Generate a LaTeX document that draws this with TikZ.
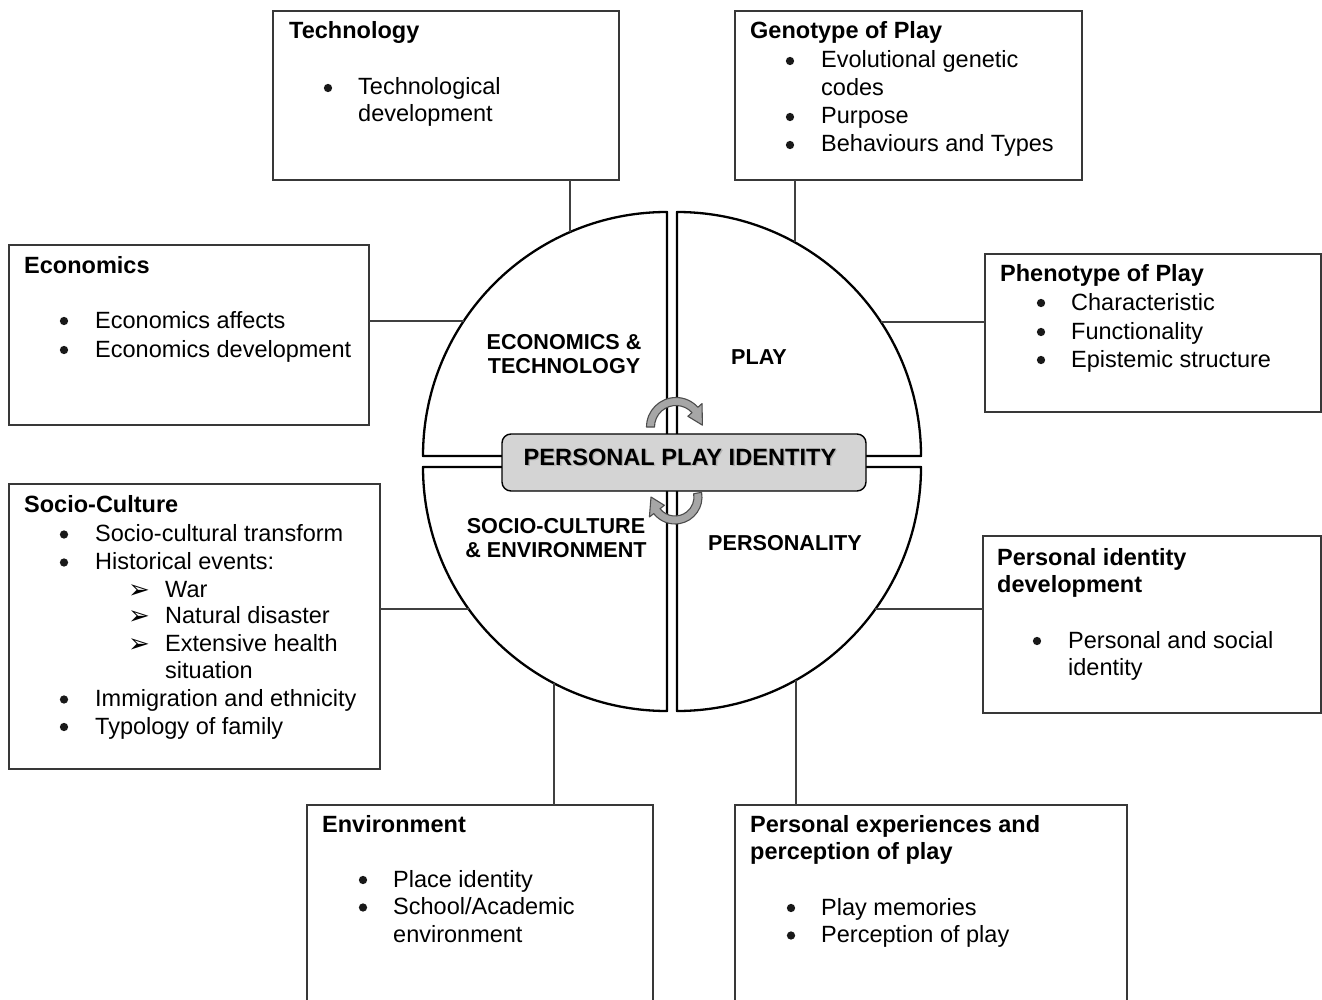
\documentclass[tikz,border=0pt]{standalone}
\usepackage{fontspec}
\setmainfont{Liberation Sans}
\newfontfamily\dejavu{DejaVu Sans}
\begin{document}
\begin{tikzpicture}[x=1pt,y=-1pt,
  box/.style={draw=black!78, line width=1.4pt, inner sep=0pt, outer sep=0pt},
  conn/.style={draw=black!75, line width=1.3pt},
  quad/.style={draw=black, line width=2.3pt, line join=round},
  txt/.style={anchor=base west, inner sep=0pt, font=\fontsize{23.5}{28}\selectfont},
  ttl/.style={anchor=base west, inner sep=0pt, font=\fontsize{23.5}{28}\selectfont\bfseries},
  bul/.style={circle, fill=black!90, inner sep=0pt, minimum size=8.3pt, yshift=7pt},
  arw/.style={anchor=base, inner sep=0pt, font=\dejavu\fontsize{26}{28}\selectfont},
  qlab/.style={anchor=base, align=center, inner sep=0pt, font=\fontsize{21.6}{24}\selectfont\bfseries},
  rarrow/.style={fill=black!35, draw=black!70, line width=1.1pt, line join=round}
]
\clip (0,0) rectangle (1322,1000);
\fill[white] (0,0) rectangle (1322,1000);

% circle quadrants
\draw[quad] (667,456) -- (423,456) arc[start angle=180,end angle=270,radius=244] -- cycle;
\draw[quad] (677,456) -- (677,212) arc[start angle=270,end angle=360,radius=244] -- cycle;
\draw[quad] (667,467) -- (423,467) arc[start angle=180,end angle=90,radius=244] -- cycle;
\draw[quad] (677,467) -- (921,467) arc[start angle=0,end angle=90,radius=244] -- cycle;

% boxes
\node[box, minimum width=346pt, minimum height=169pt] (tech) at (446,95.5) {};
\node[box, minimum width=347pt, minimum height=169pt] (geno) at (908.5,95.5) {};
\node[box, minimum width=360pt, minimum height=180pt] (econ) at (189,335) {};
\node[box, minimum width=336pt, minimum height=158pt] (pheno) at (1153,333) {};
\node[box, minimum width=371pt, minimum height=285pt] (socio) at (194.5,626.5) {};
\node[box, minimum width=338pt, minimum height=177pt] (pid) at (1152,624.5) {};
\node[box, minimum width=346pt, minimum height=225pt] (env) at (480,917.5) {};
\node[box, minimum width=392pt, minimum height=225pt] (pexp) at (931,917.5) {};

% circle contact points
\coordinate (cT) at (570,232);
\coordinate (cG) at (795,242.4);
\coordinate (cE) at (463.7,321);
\coordinate (cP) at (881,322);
\coordinate (cS) at (468.6,609);
\coordinate (cI) at (875.4,609);
\coordinate (cV) at (554,683);
\coordinate (cX) at (796,680);

\draw[conn] (cT) -- (cT |- tech.south);
\draw[conn] (cG) -- (cG |- geno.south);
\draw[conn] (cE) -- (cE -| econ.east);
\draw[conn] (cP) -- (cP -| pheno.west);
\draw[conn] (cS) -- (cS -| socio.east);
\draw[conn] (cI) -- (cI -| pid.west);
\draw[conn] (cV) -- (cV |- env.north);
\draw[conn] (cX) -- (cX |- pexp.north);

% central box
\node[draw=black, line width=1.4pt, fill=black!17, rounded corners=9pt,
      minimum width=364pt, minimum height=57pt, inner sep=0pt] (ppi) at (684,462.5) {};
\node[anchor=base, inner sep=0pt, text=black!30, font=\fontsize{23.6}{26}\selectfont\bfseries] (ppis) at (681.3,466.3) {PERSONAL PLAY IDENTITY};
\node[anchor=base, inner sep=0pt, text=black, font=\fontsize{23.6}{26}\selectfont\bfseries] (ppit) at (680,465) {PERSONAL PLAY IDENTITY};

% rotating arrows
\coordinate (ca) at (676,427);
\draw[rarrow] ([shift={(180:21.5)}]ca) -- ([shift={(180:29.5)}]ca)
  arc[start angle=180,end angle=318,radius=29.5]
  -- ([shift={(318:35)}]ca) -- ([shift={(356:26.5)}]ca) -- ([shift={(318:16)}]ca)
  -- ([shift={(318:21.5)}]ca) arc[start angle=318,end angle=180,radius=21.5] -- cycle;
\coordinate (cb) at (675,497);
\draw[rarrow] ([shift={(-10:19)}]cb) -- ([shift={(-10:27)}]cb)
  arc[start angle=-10,end angle=142,radius=27]
  -- ([shift={(142:32.5)}]cb) -- ([shift={(180:24)}]cb) -- ([shift={(142:13.5)}]cb)
  -- ([shift={(142:19)}]cb) arc[start angle=142,end angle=-10,radius=19] -- cycle;

% quadrant labels
\node[qlab] (qET) at (564,373) {ECONOMICS \&\\TECHNOLOGY};
\node[qlab] (qPL) at (759,364) {PLAY};
\node[qlab] (qSC) at (556,557.5) {SOCIO-CULTURE\\\& ENVIRONMENT};
\node[qlab] (qPE) at (785,550) {PERSONALITY};

% Technology
\node[ttl] (t0) at (289,39) {Technology};
\node[bul] (t1b) at (328,95) {};
\node[txt] (t1) at (358,95) {Technological};
\node[txt] (t2) at (358,122) {development};

% Genotype
\node[ttl] (g0) at (750,39) {Genotype of Play};
\node[bul] (g1b) at (790,68) {};
\node[txt] (g1) at (821,68) {Evolutional genetic};
\node[txt] (g2) at (821,96) {codes};
\node[bul] (g3b) at (790,124) {};
\node[txt] (g3) at (821,124) {Purpose};
\node[bul] (g4b) at (790,152) {};
\node[txt] (g4) at (821,152) {Behaviours and Types};

% Economics
\node[ttl] (e0) at (24,273) {Economics};
\node[bul] (e1b) at (64,328) {};
\node[txt] (e1) at (95,328) {Economics affects};
\node[bul] (e2b) at (64,357) {};
\node[txt] (e2) at (95,357) {Economics development};

% Phenotype
\node[ttl] (p0) at (1000,281) {Phenotype of Play};
\node[bul] (p1b) at (1041,310) {};
\node[txt] (p1) at (1071,310) {Characteristic};
\node[bul] (p2b) at (1041,339) {};
\node[txt] (p2) at (1071,339) {Functionality};
\node[bul] (p3b) at (1041,367) {};
\node[txt] (p3) at (1071,367) {Epistemic structure};

% Socio-Culture
\node[ttl] (s0) at (24,512) {Socio-Culture};
\node[bul] (s1b) at (64,541.5) {};
\node[txt] (s1) at (95,541.5) {Socio-cultural transform};
\node[bul] (s2b) at (64,569.5) {};
\node[txt] (s2) at (95,569.5) {Historical events:};
\node[arw] (s3a) at (139,598) {➢};
\node[txt] (s3) at (165,597) {War};
\node[arw] (s4a) at (139,624.5) {➢};
\node[txt] (s4) at (165,623.5) {Natural disaster};
\node[arw] (s5a) at (139,652) {➢};
\node[txt] (s5) at (165,651) {Extensive health};
\node[txt] (s6) at (165,678.5) {situation};
\node[bul] (s7b) at (64,706.5) {};
\node[txt] (s7) at (95,706.5) {Immigration and ethnicity};
\node[bul] (s8b) at (64,734) {};
\node[txt] (s8) at (95,734) {Typology of family};

% Personal identity development
\node[ttl] (i0) at (997,565) {Personal identity};
\node[ttl] (i1) at (997,592) {development};
\node[bul] (i2b) at (1037,648) {};
\node[txt] (i2) at (1068,648) {Personal and social};
\node[txt] (i3) at (1068,675) {identity};

% Environment
\node[ttl] (v0) at (322,832) {Environment};
\node[bul] (v1b) at (363,887) {};
\node[txt] (v1) at (393,887) {Place identity};
\node[bul] (v2b) at (363,914.5) {};
\node[txt] (v2) at (393,914.5) {School/Academic};
\node[txt] (v3) at (393,942) {environment};

% Personal experiences
\node[ttl] (x0) at (750,832) {Personal experiences and};
\node[ttl] (x1) at (750,859) {perception of play};
\node[bul] (x2b) at (791,915) {};
\node[txt] (x2) at (821,915) {Play memories};
\node[bul] (x3b) at (791,942.5) {};
\node[txt] (x3) at (821,942.5) {Perception of play};
\end{tikzpicture}
\end{document}
